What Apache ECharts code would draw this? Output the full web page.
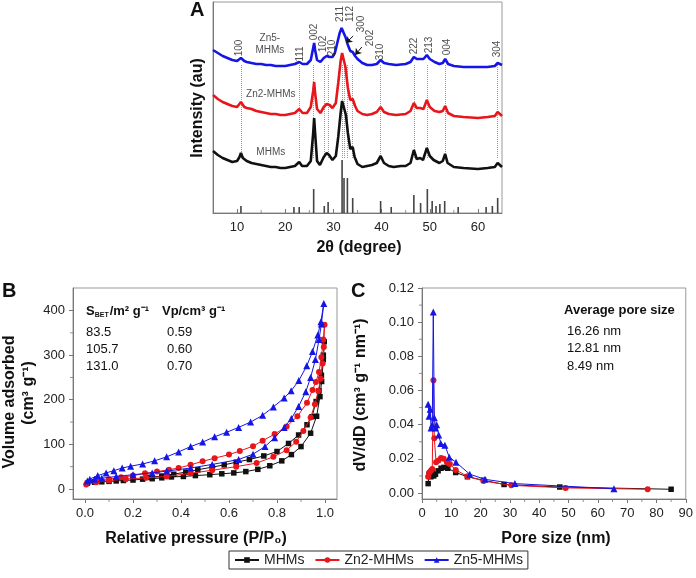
<!DOCTYPE html>
<html><head><meta charset="utf-8">
<script src="https://cdn.jsdelivr.net/npm/echarts@6/dist/echarts.min.js"></script>
<style>html,body{margin:0;padding:0;background:#fff}#c{width:696px;height:578px}</style>
</head><body><div id="c"></div><script>
// ---------- Panel A: XRD (2theta, intensity au) ----------
const xrdMHMs = [[5,62],[5.5,60],[6,58],[7,55],[8,53],[9,51],[10,52],[10.5,56],[10.8,60],[11.2,55],[12,52],[13,50],[14,49],[15,48],[16,47],[17,46],[18,46],[19,45],[20,45],[21,46],[22,47],[22.9,51],[23.5,47],[24.5,47],[25.3,52],[25.8,80],[26.0,95],[26.2,80],[26.6,52],[27.2,48],[28.0,56],[28.6,60],[29.1,58],[29.8,53],[30.5,57],[31.0,76],[31.5,100],[31.8,112],[32.2,110],[32.6,98],[33.0,80],[33.5,64],[34.0,66],[34.4,56],[35,49],[36,46],[37,47],[38,48],[39,50],[39.8,57],[40.5,50],[41.5,47],[42.5,46],[44,47],[45,47],[46,50],[46.7,63],[47.3,54],[48,55],[48.6,53],[49.4,65],[50.0,57],[50.8,53],[52,50],[52.7,52],[53.2,59],[53.7,50],[55,46],[57,45],[60,44],[62,45],[63.5,46],[64.1,50],[65,46]];
const xrdZn2 = [[5,118],[6,114],[7,111],[8,109],[9,107],[10,106],[10.8,111],[11.5,106],[12,105],[13,104],[14,102],[15,101],[16,100],[17,99],[18,99],[19,98],[20,98],[21,99],[22,100],[22.9,104],[23.6,100],[24.5,100],[25.3,106],[25.8,122],[26.0,131],[26.2,120],[26.6,104],[27.3,100],[28.0,106],[28.6,109],[29.2,108],[29.8,105],[30.5,110],[31.0,130],[31.5,152],[31.8,160],[32.1,158],[32.5,146],[33.0,125],[33.5,113],[34.0,114],[34.5,107],[35,102],[36,99],[37,98],[38,99],[39,101],[39.8,106],[40.5,101],[41.5,99],[43,98],[45,99],[46,102],[46.7,110],[47.3,105],[48,105],[48.7,104],[49.4,113],[50,106],[51,102],[52,101],[52.7,102],[53.2,107],[53.8,100],[55,97],[57,96],[60,95],[62,96],[63.5,97],[64.1,101],[65,97]];
const xrdZn5 = [[5,163],[6,160],[7,157],[8,155],[9,153],[10,152],[10.8,155],[11.5,152],[12,151],[13,150],[14,149],[15,149],[16,148],[17,148],[18,147],[19,147],[20,147],[21,148],[22,149],[22.9,151],[23.6,149],[24.5,149],[25.3,153],[25.8,165],[26.0,170],[26.2,163],[26.6,153],[27.3,151],[28.0,155],[28.6,157],[29.2,156],[29.8,156],[30.3,160],[30.8,170],[31.3,180],[31.7,185],[32.1,183],[32.5,176],[33.0,168],[33.5,162],[34.0,161],[34.5,157],[35,154],[36,150],[37,148],[38,148],[39,149],[39.8,153],[40.5,150],[41.5,149],[43,148],[45,149],[46,151],[46.7,156],[47.3,154],[48,154],[48.7,154],[49.4,158],[50,154],[51,151],[52,149],[52.7,150],[53.2,154],[53.8,149],[55,147],[57,146],[60,146],[62,146],[63.5,147],[64.1,150],[65,148]];
// reference pattern stick positions / heights
const refPos = [10.8,21.8,22.9,25.9,28.1,28.9,31.8,32.2,32.9,34.0,39.8,42.0,46.7,48.1,49.5,50.5,51.3,52.1,53.1,55.9,61.7,63.0,64.1];
const refH   = [7,6,6,24,7,11,53,35,35,15,12,6,18,10,24,12,7,9,12,6,6,7,15];
// dotted guide positions
const guideX = [10.8,22.9,25.9,28.1,28.9,31.8,32.2,32.9,34.0,39.8,46.7,49.5,53.2,64.1];
const guideTop = 148, guideBottom = 55;
// hkl labels
const peakNames = ['100','111','002','102','210','211','112','300','202','310','222','213','004','304'];
const peakLabelX = [10.4,23.1,26.1,27.9,29.7,31.5,33.4,35.7,37.6,39.7,46.8,49.9,53.7,64.1];
const peakLabelH = [165,159,181,169,165,199,199,189,175,161,167,168,166,164];
// arrows for 300 and 202: [x1,h1,x2,h2]
const arrows = [[34.1,177,32.6,170],[35.9,166,34.5,158]];
// sample names
const sampleNames = ['Zn5-\nMHMs','Zn2-MHMs','MHMs'];
const sampleX = [16.8,17.0,17.0];
const sampleH = [169,119,61];
const xTicksA = [10,20,30,40,50,60];
const xMinorA = [15,25,35,45,55];

// ---------- Panel B: N2 isotherms ----------
const bAdsMHMs = [[0.01,13],[0.04,15],[0.07,16],[0.10,17],[0.13,18],[0.16,19],[0.20,20],[0.24,22],[0.28,23],[0.32,25],[0.36,27],[0.41,28],[0.46,30],[0.52,32],[0.57,34],[0.62,36],[0.67,39],[0.72,44],[0.77,52],[0.82,63],[0.86,77],[0.90,95],[0.94,125],[0.965,163],[0.979,207],[0.986,241],[0.993,290],[0.997,330]];
const bDesMHMs = [[0.993,300],[0.985,255],[0.975,220],[0.963,196],[0.946,162],[0.925,144],[0.89,121],[0.848,102],[0.80,84],[0.745,74],[0.685,66],[0.63,60],[0.58,54],[0.53,49],[0.47,43],[0.42,38],[0.37,33],[0.32,29],[0.27,26]];
const bAdsZn2 = [[0.005,10],[0.046,15],[0.10,19],[0.17,22],[0.255,25],[0.34,28],[0.44,35],[0.53,42],[0.63,50],[0.715,58],[0.785,72],[0.84,87],[0.88,106],[0.91,130],[0.94,160],[0.958,190],[0.972,220],[0.982,247],[0.99,281],[0.995,318],[0.998,368]];
const bDesZn2 = [[0.993,335],[0.985,295],[0.975,262],[0.962,240],[0.948,222],[0.925,193],[0.885,163],[0.84,140],[0.79,123],[0.74,108],[0.70,96],[0.645,85],[0.60,77],[0.54,69],[0.49,62],[0.44,54],[0.39,47],[0.35,43],[0.30,39],[0.25,35],[0.20,30],[0.15,26],[0.10,22],[0.05,17]];
const bAdsZn5 = [[0.01,18],[0.04,22],[0.07,24],[0.13,28],[0.20,32],[0.28,36],[0.34,40],[0.44,47],[0.53,55],[0.64,66],[0.70,78],[0.75,95],[0.79,115],[0.83,138],[0.86,158],[0.89,185],[0.92,218],[0.94,250],[0.96,290],[0.975,335],[0.985,370],[0.995,416]];
const bDesZn5 = [[0.983,375],[0.97,345],[0.948,308],[0.924,276],[0.891,243],[0.859,220],[0.83,204],[0.785,184],[0.74,165],[0.69,150],[0.64,138],[0.59,127],[0.54,117],[0.49,105],[0.44,95],[0.39,83],[0.34,72],[0.29,63],[0.24,56],[0.19,51],[0.155,47],[0.12,41],[0.088,36],[0.053,30],[0.02,22]];
const xTicksB = [0,0.2,0.4,0.6,0.8,1.0];
const xMinorB = [0.1,0.3,0.5,0.7,0.9];
const yTicksB = [0,100,200,300,400];
const yMinorB = [50,150,250,350];
const sbet = ['83.5','105.7','131.0'];
const vp = ['0.59','0.60','0.70'];

// ---------- Panel C: pore size distribution ----------
const cMHMs = [[2.1,0.0055],[2.4,0.011],[3.0,0.0095],[3.5,0.012],[4.0,0.010],[4.6,0.011],[5.5,0.013],[6.5,0.0145],[7.5,0.015],[8.8,0.0145],[11.5,0.012],[15.5,0.0095],[21,0.0075],[28,0.005],[47,0.0035],[85,0.0022]];
const cZn2 = [[2.1,0.0095],[2.5,0.012],[3.0,0.013],[3.5,0.014],[3.9,0.066],[4.2,0.032],[4.8,0.018],[5.6,0.019],[6.5,0.0205],[7.4,0.020],[8.5,0.018],[9.5,0.017],[11.5,0.0135],[15.5,0.0098],[21,0.007],[30.5,0.0045],[49,0.003],[77,0.0022]];
const cZn5 = [[2.1,0.052],[2.4,0.045],[2.8,0.049],[3.1,0.038],[3.5,0.040],[3.85,0.106],[4.2,0.044],[4.6,0.038],[5.0,0.040],[5.7,0.034],[6.4,0.029],[7.8,0.028],[9.3,0.021],[11.6,0.018],[16.3,0.011],[21.5,0.008],[31.7,0.0055],[65.5,0.0025]];
const xTicksC = [0,10,20,30,40,50,60,70,80,90];
const xMinorC = [5,15,25,35,45,55,65,75,85];
const yTicksC = [0,0.02,0.04,0.06,0.08,0.10,0.12];
const yMinorC = [0.01,0.03,0.05,0.07,0.09,0.11];
const avgPore = ['16.26 nm','12.81 nm','8.49 nm'];

const names = ['MHMs','Zn2-MHMs','Zn5-MHMs'];
const colors = ['#111111','#e8151b','#1515e6'];
const symbols = ['rect','circle','triangle'];
const FONT = 'Arial, "Liberation Sans", Helvetica, sans-serif';

const chart = echarts.init(document.getElementById('c'), null, {renderer:'canvas'});

function mainAxis(gi, min, max, labels, fmt, inside) {
  return {
    type:'value', gridIndex:gi, min:min, max:max, offset:0,
    axisLine:{show:true, onZero:false, lineStyle:{color:'#777', width:1}},
    axisTick:{show:true, inside:inside, length:4, customValues:labels, lineStyle:{color:'#777'}},
    axisLabel:{show:true, customValues:labels, formatter:fmt, color:'#222', fontSize:13, fontFamily:FONT, margin:8},
    splitLine:{show:false}
  };
}

const series = [];
// minor ticks: tiny rect symbols placed at axis values (edge value = axis min)
function minorTicks(xi, yi, vals, dir, inside, edge) {
  const L = 3;
  return {
    type:'scatter', xAxisIndex:xi, yAxisIndex:yi, silent:true, clip:false, z:10,
    symbol:'rect',
    symbolSize: dir==='x' ? [1, L] : [L, 1],
    symbolOffset: dir==='x' ? [0, inside ? -L/2 : L/2] : [inside ? L/2 : -L/2, 0],
    itemStyle:{color:'#777'},
    data: vals.map(v => dir==='x' ? [v, edge] : [edge, v])
  };
}

// Panel A curves
const xrdSets = [xrdMHMs, xrdZn2, xrdZn5];
xrdSets.forEach((d,i)=>{
  const s = {
    type:'line', name:'xrd-'+names[i], xAxisIndex:0, yAxisIndex:0, data:d,
    showSymbol:false, symbol:'none', silent:true,
    lineStyle:{color:colors[i], width:2.6}, z:3
  };
  if (i===0) {
    s.markLine = {silent:true, symbol:['none','none'], label:{show:false}, z:1,
      lineStyle:{color:'#999', type:'dotted', width:1},
      data: guideX.map(x=>[{coord:[x,guideTop]},{coord:[x,guideBottom]}])};
  }
  if (i===2) {
    s.markLine = {silent:true, symbol:['none','arrow'], symbolSize:6, label:{show:false},
      lineStyle:{color:'#111', type:'solid', width:1},
      data: arrows.map(a=>[{coord:[a[0],a[1]]},{coord:[a[2],a[3]]}])};
  }
  series.push(s);
});
series.push({
  type:'bar', name:'ref', xAxisIndex:0, yAxisIndex:0, barWidth:1.6, silent:true,
  itemStyle:{color:'#444'}, data: refPos.map((x,i)=>[x, refH[i]])
});
series.push({
  type:'scatter', name:'hkl', xAxisIndex:0, yAxisIndex:0, symbolSize:1, silent:true, z:6,
  itemStyle:{color:'rgba(0,0,0,0)'},
  label:{show:true, position:'inside', formatter:'{b}', rotate:90, color:'#222', fontSize:10, fontFamily:FONT, align:'center', verticalAlign:'middle'},
  data: peakLabelX.map((x,i)=>({name:peakNames[i], value:[x, peakLabelH[i]]}))
});
series.push({
  type:'scatter', name:'samples', xAxisIndex:0, yAxisIndex:0, symbolSize:1, silent:true, z:6,
  itemStyle:{color:'rgba(0,0,0,0)'},
  label:{show:true, position:'inside', formatter:'{b}', color:'#222', fontSize:10, lineHeight:12, fontFamily:FONT, align:'center', verticalAlign:'middle'},
  data: sampleX.map((x,i)=>({name:sampleNames[i], value:[x, sampleH[i]]}))
});
series.push(minorTicks(0,0,xMinorA,'x',true,0));
// Panel B
const bSets = [bAdsMHMs.concat(bDesMHMs), bAdsZn2.concat(bDesZn2), bAdsZn5.concat(bDesZn5)];
bSets.forEach((d,i)=>{
  series.push({type:'line', name:names[i], xAxisIndex:1, yAxisIndex:1, data:d,
    symbol:symbols[i], symbolSize: i===2?7:(i===0?5.5:6), showSymbol:true,
    lineStyle:{color:colors[i], width:1}, itemStyle:{color:colors[i]}, z:3+i});
});
series.push(minorTicks(1,1,xMinorB,'x',false,-22.5));
series.push(minorTicks(1,1,yMinorB,'y',false,-0.05));
// Panel C
const cSets = [cMHMs, cZn2, cZn5];
cSets.forEach((d,i)=>{
  series.push({type:'line', name:names[i], xAxisIndex:2, yAxisIndex:2, data:d,
    symbol:symbols[i], symbolSize: i===2?7:(i===0?5.5:6), showSymbol:true,
    lineStyle:{color:colors[i], width:1}, itemStyle:{color:colors[i]}, z:3+i});
});
series.push(minorTicks(2,2,xMinorC,'x',false,-0.0035));
series.push(minorTicks(2,2,yMinorC,'y',false,0));

const titleStyle = {fontSize:16, fontWeight:'bold', fontFamily:FONT, fill:'#111'};
function txt(x,y,text,opt){
  return {type:'text', x:x, y:y, rotation:(opt&&opt.rot)||0, silent:true,
    style:Object.assign({text:text, fontFamily:FONT, fontSize:13, fill:'#111', textAlign:'left', textVerticalAlign:'middle'}, (opt&&opt.style)||{})};
}
const graphics = [
  txt(190,10,'A',{style:{fontSize:20,fontWeight:'bold'}}),
  txt(2,291,'B',{style:{fontSize:20,fontWeight:'bold'}}),
  txt(351,291,'C',{style:{fontSize:20,fontWeight:'bold'}}),
  txt(198,108,'Intensity (au)',{rot:Math.PI/2, style:Object.assign({textAlign:'center'},titleStyle)}),
  txt(359,248,'2θ (degree)',{style:Object.assign({textAlign:'center'},titleStyle)}),
  txt(10,402,'Volume adsorbed',{rot:Math.PI/2, style:Object.assign({textAlign:'center'},titleStyle)}),
  txt(29,393,'(cm³ g⁻¹)',{rot:Math.PI/2, style:Object.assign({textAlign:'center'},titleStyle)}),
  txt(196,539,'Relative pressure (P/P₀)',{style:Object.assign({textAlign:'center'},titleStyle)}),
  txt(361,395,'dV/dD (cm³ g⁻¹ nm⁻¹)',{rot:Math.PI/2, style:Object.assign({textAlign:'center'},titleStyle)}),
  txt(556,539,'Pore size (nm)',{style:Object.assign({textAlign:'center'},titleStyle)}),
  {type:'text', x:86, y:311, silent:true, style:{
    text:'{b|S}{s|BET}{b|/m² g⁻¹}', textVerticalAlign:'middle',
    rich:{b:{fontSize:13,fontWeight:'bold',fontFamily:FONT,fill:'#111',lineHeight:16,verticalAlign:'middle'},
          s:{fontSize:7,fontWeight:'bold',fontFamily:FONT,fill:'#111',lineHeight:16,verticalAlign:'bottom',padding:[6,1,0,0]}}}},
  txt(162,311,'Vp/cm³ g⁻¹',{style:{fontWeight:'bold'}}),
  txt(564,310,'Average pore size',{style:{fontWeight:'bold'}})
];
sbet.forEach((t,i)=>graphics.push(txt(86,332+i*17,t)));
vp.forEach((t,i)=>graphics.push(txt(167,332+i*17,t)));
avgPore.forEach((t,i)=>graphics.push(txt(567,331+i*17.5,t)));

chart.setOption({
  animation:false,
  backgroundColor:'#fff',
  textStyle:{fontFamily:FONT},
  grid:[
    {left:213, top:2, width:289, height:211, show:true, borderColor:'#999', borderWidth:1, backgroundColor:'transparent'},
    {left:73, top:288, width:264, height:211, show:true, borderColor:'#999', borderWidth:1, backgroundColor:'transparent'},
    {left:422, top:288, width:266, height:211, show:true, borderColor:'#999', borderWidth:1, backgroundColor:'transparent'}
  ],
  xAxis:[
    mainAxis(0,5,65,xTicksA,v=>String(v),true),
    mainAxis(1,-0.05,1.05,xTicksB,v=>Number(v).toFixed(1),false),
    mainAxis(2,0,90,xTicksC,v=>String(v),false)
  ],
  yAxis:[
    {type:'value', gridIndex:0, min:0, max:211, axisLine:{show:true,lineStyle:{color:'#777'}}, axisTick:{show:false}, axisLabel:{show:false}, splitLine:{show:false}},
    mainAxis(1,-22.5,450.5,yTicksB,v=>String(v),false),
    mainAxis(2,-0.0035,0.12,yTicksC,v=>Number(v).toFixed(2),false)
  ],
  legend:{
    data:names, left:229, top:551, orient:'horizontal',
    padding:[2,5,2,5], itemGap:10, itemWidth:24, itemHeight:7,
    borderColor:'#333', borderWidth:1, backgroundColor:'#fff',
    textStyle:{fontSize:14, color:'#222', fontFamily:FONT},
    selectedMode:false
  },
  series:series,
  graphic:graphics
});
</script></body></html>
